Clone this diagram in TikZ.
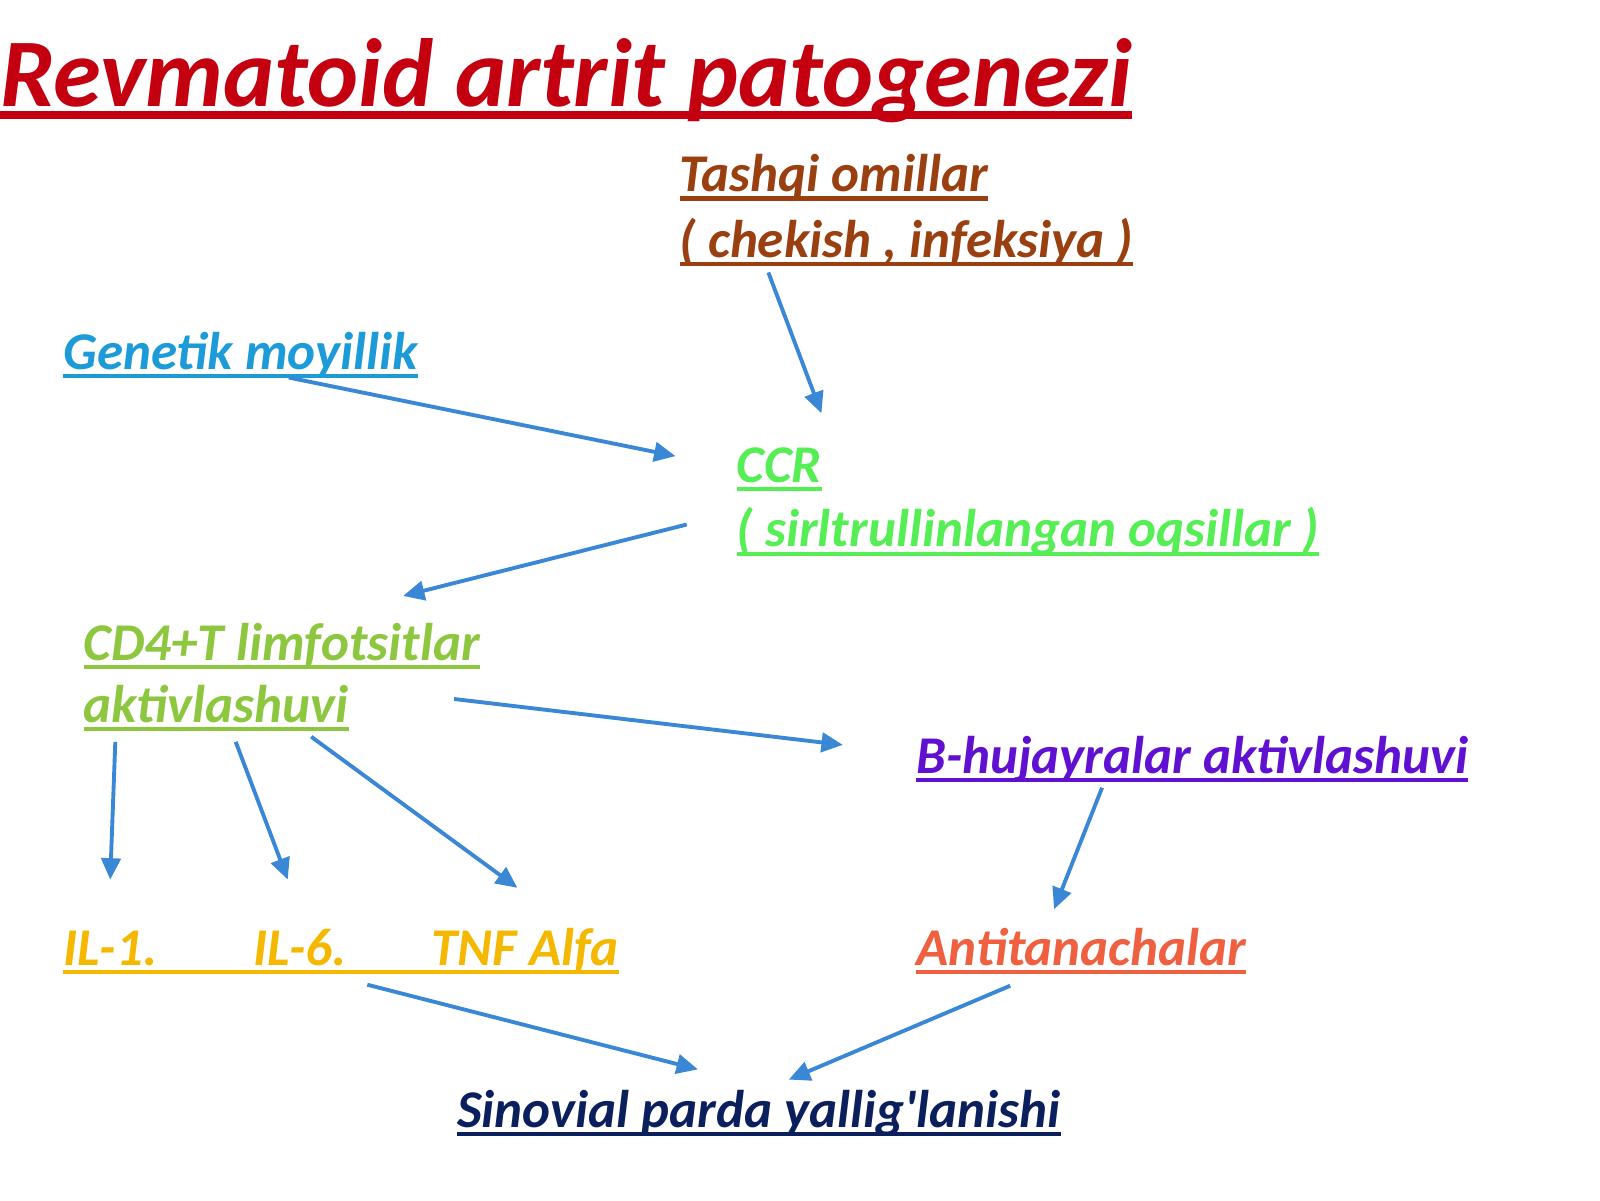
\documentclass[tikz,border=0pt]{standalone}
\usepackage{fontspec}
\setmainfont{Carlito}[Ligatures=TeXOff]
\usetikzlibrary{arrows.meta}
\definecolor{titlered}{HTML}{C40010}
\definecolor{brownc}{HTML}{9A3F0F}
\definecolor{genc}{HTML}{1C9BD8}
\definecolor{ccrc}{HTML}{55EE55}
\definecolor{cdc}{HTML}{8DC63F}
\definecolor{bc}{HTML}{6010D0}
\definecolor{ilc}{HTML}{F5B800}
\definecolor{antc}{HTML}{EE6040}
\definecolor{sinc}{HTML}{0A1F5C}
\definecolor{arrc}{HTML}{3A88D5}
\tikzset{
  lbl/.style={anchor=base west, inner sep=0pt, outer sep=0pt, font=\fontsize{52}{62}\selectfont\bfseries\itshape},
  ttl/.style={anchor=base west, inner sep=0pt, outer sep=0pt, font=\fontsize{95}{110}\selectfont\bfseries\itshape},
  arr/.style={draw=arrc, line width=3.8pt, -{Triangle[length=21pt,width=19pt]}},
}
\begin{document}
\begin{tikzpicture}[x=1pt,y=-1pt]
\useasboundingbox (0,0) rectangle (1568,1176);
% title
\node[ttl, text=titlered] (title) at (0,104) {Revmatoid artrit patogenezi};
\draw[titlered, line width=8pt] ([yshift=-9pt]title.base west) -- ([yshift=-9pt]title.base east);
% texts
\node[lbl, text=brownc] (tash1) at (666,188) {Tashqi omillar};
\node[lbl, text=brownc] (tash2) at (666,252) {( chekish , infeksiya )};
\node[lbl, text=genc] (gen) at (62,362) {Genetik moyillik};
\node[lbl, text=ccrc] (ccr1) at (722,473) {CCR};
\node[lbl, text=ccrc] (ccr2) at (722,536) {( sirltrullinlangan oqsillar )};
\node[lbl, text=cdc] (cd1) at (82,647) {CD4+T limfotsitlar};
\node[lbl, text=cdc] (cd2) at (82,708) {aktivlashuvi};
\node[lbl, text=bc] (bh) at (898,758) {B-hujayralar aktivlashuvi};
\node[lbl, text=ilc] (il) at (62,946) {IL-1.\hspace{94pt}IL-6.\hspace{83pt}TNF Alfa};
\node[lbl, text=antc] (ant) at (898,946) {Antitanachalar};
\node[lbl, text=sinc] (sin) at (448,1105) {Sinovial parda yallig'lanishi};
% underlines
\foreach \n/\c in {tash1/brownc, tash2/brownc, gen/genc, ccr1/ccrc, ccr2/ccrc, cd1/cdc, cd2/cdc, bh/bc, il/ilc, ant/antc, sin/sinc}{
  \draw[\c, line width=4pt] ([yshift=-6.5pt]\n.base west) -- ([yshift=-6.5pt]\n.base east);
}
% arrow end coordinates
\coordinate (tashS) at (753,267);
\coordinate (ccrN) at (805,405);
\coordinate (genS) at (283,370);
\coordinate (ccrW) at (662,447);
\coordinate (ccrSW) at (673,514);
\coordinate (cdN) at (395,584);
\coordinate (cdE) at (445,685);
\coordinate (bW) at (826,730);
\coordinate (cdS1) at (113,727);
\coordinate (il1N) at (108,862);
\coordinate (cdS2) at (231,727);
\coordinate (il6N) at (282,862);
\coordinate (cdS3) at (305,722);
\coordinate (tnfN) at (507,870);
\coordinate (bS) at (1080,772);
\coordinate (antN) at (1033,891);
\coordinate (ilS) at (360,965);
\coordinate (sinN1) at (684,1048);
\coordinate (antS) at (990,966);
\coordinate (sinN2) at (773,1058);
\draw[arr] (tashS) -- (ccrN);
\draw[arr] (genS) -- (ccrW);
\draw[arr] (ccrSW) -- (cdN);
\draw[arr] (cdE) -- (bW);
\draw[arr] (cdS1) -- (il1N);
\draw[arr] (cdS2) -- (il6N);
\draw[arr] (cdS3) -- (tnfN);
\draw[arr] (bS) -- (antN);
\draw[arr] (ilS) -- (sinN1);
\draw[arr] (antS) -- (sinN2);
\end{tikzpicture}
\end{document}
